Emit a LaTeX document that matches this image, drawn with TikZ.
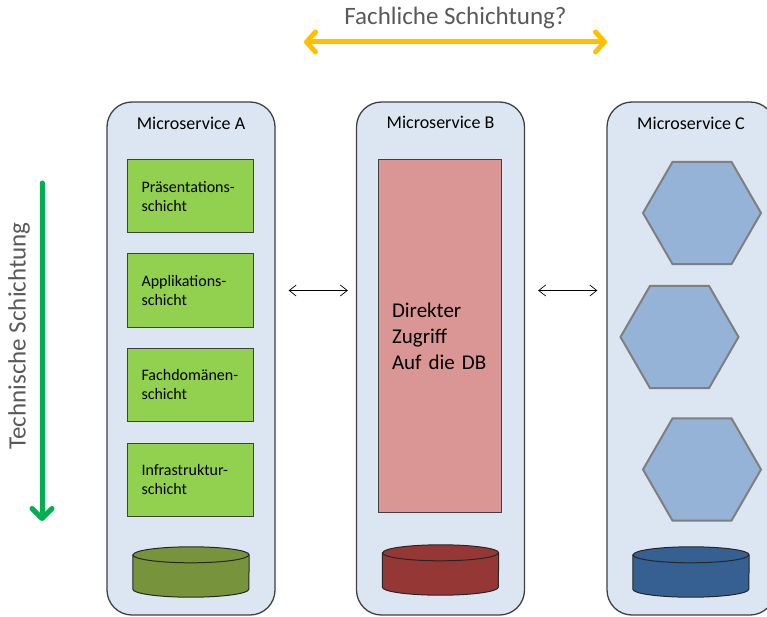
\documentclass[tikz,border=0pt]{standalone}
\usepackage{fontspec}
\setmainfont{Carlito}
\usetikzlibrary{calc}
\usetikzlibrary{shapes.geometric}
\usetikzlibrary{positioning}
\usetikzlibrary{arrows.meta}
\definecolor{svcfill}{HTML}{DCE6F2}
\definecolor{svcline}{HTML}{404040}
\definecolor{layerfill}{HTML}{92D050}
\definecolor{directfill}{HTML}{D99694}
\definecolor{dbA}{HTML}{77933C}
\definecolor{dbB}{HTML}{953735}
\definecolor{dbC}{HTML}{376092}
\definecolor{hexfill}{HTML}{95B3D7}
\definecolor{hexline}{HTML}{7F7F7F}
\definecolor{labelgray}{HTML}{595959}
\definecolor{fachorange}{HTML}{FFC000}
\definecolor{technikgreen}{HTML}{00B050}
\tikzstyle{service} = [rectangle, draw=svcline, line width=1.3pt, fill=svcfill,
    rounded corners=25pt, minimum width=168pt, minimum height=513pt, inner sep=0pt]
\tikzstyle{title} = [font=\fontsize{18}{22}\selectfont, inner sep=0pt]
\tikzstyle{layer} = [rectangle, draw=black!75, line width=1pt, fill=layerfill,
    text width=98pt, inner xsep=14pt, minimum height=73pt, align=left,
    font=\fontsize{16}{19}\selectfont]
\tikzstyle{direct} = [rectangle, draw=black!75, line width=1pt, fill=directfill,
    text width=95pt, inner xsep=14pt, minimum height=352pt, align=left,
    font=\fontsize{21}{26}\selectfont]
\tikzstyle{dbbody} = [rectangle, minimum width=116pt, minimum height=34pt, inner sep=0pt]
\tikzstyle{dbshape} = [draw=black!85, line width=1pt]
\tikzstyle{hex} = [regular polygon, regular polygon sides=6, draw=hexline,
    line width=2pt, fill=hexfill, minimum size=118pt, inner sep=0pt]
\tikzstyle{line} = [draw, line width=0.7pt,
    {Straight Barb[length=7pt,width=11pt]}-{Straight Barb[length=7pt,width=11pt]}]
\tikzstyle{bigline} = [draw, line width=5pt, line cap=round]

\begin{document}
\begin{tikzpicture}[x=1pt, y=-1pt]
    \useasboundingbox (0,0) rectangle (767,617);
    \clip (0,0) rectangle (767,617);
    % Place nodes
    \node[service] (msA) at (191,358.5) {};
    \node[service] (msB) at (440.5,358.5) {};
    \node[service] (msC) at (691,358.5) {};
    \node[title] (titleA) at ($(msA.north)+(0,22)$) {Microservice A};
    \node[title] (titleB) at ($(msB.north)+(0,21)$) {Microservice B};
    \node[title] (titleC) at ($(msC.north)+(0,22)$) {Microservice C};
    % layers of A
    \node[layer] (pres) at (190.5,196.5) {Präsentations-\\schicht};
    \node[layer, below=20pt of pres] (appl) {Applikations-\\schicht};
    \node[layer, below=20pt of appl] (fach) {Fachdomänen-\\schicht};
    \node[layer, below=21pt of fach] (infra) {Infrastruktur-\\schicht};
    % B and C
    \node[direct] (direkt) at (439.5,336) {Direkter\\Zugriff\\Auf die DB};
    \node[hex] (hexA) at (702,213) {};
    \node[hex] (hexB) at (679.5,337) {};
    \node[hex] (hexC) at (702,469.5) {};
    % databases
    \node[dbbody] (dbA) at (191,572) {};
    \node[dbbody] (dbB) at (440.5,570) {};
    \node[dbbody] (dbC) at (691,572) {};
    \foreach \db in {dbA,dbB,dbC} {
        \path[dbshape, fill=\db] (\db.north west) -- (\db.south west)
            arc[start angle=180, end angle=360, x radius=58pt, y radius=8pt]
            -- (\db.north east)
            arc[start angle=0, end angle=180, x radius=58pt, y radius=8pt] -- cycle;
        \draw[dbshape] (\db.north west)
            arc[start angle=180, end angle=360, x radius=58pt, y radius=8pt];
    }
    % Draw edges
    \path [line] ([xshift=13pt]msA.east |- appl.east) -- ([xshift=-8pt]msB.west |- appl.east);
    \path [line] ([xshift=13pt]msB.east |- appl.east) -- ([xshift=-9pt]msC.west |- appl.east);
    % Schichtung arrows
    \coordinate (fachL) at (304,42);
    \coordinate (fachR) at (607,42);
    \node[font=\fontsize{25}{30}\selectfont, text=labelgray] (fachLabel) at (455.5,18) {Fachliche Schichtung?};
    \path [bigline, draw=fachorange,
        {Straight Barb[round,length=9pt,width=20pt]}-{Straight Barb[round,length=9pt,width=20pt]}] (fachL) -- (fachR);
    \coordinate (techTop) at (42,183);
    \coordinate (techBot) at (42,521);
    \node[font=\fontsize{25}{30}\selectfont, text=labelgray, rotate=90] (techLabel) at (19,336) {Technische Schichtung};
    \path [bigline, draw=technikgreen, -{Straight Barb[round,length=10pt,width=20pt]}] (techTop) -- (techBot);
\end{tikzpicture}
\end{document}
